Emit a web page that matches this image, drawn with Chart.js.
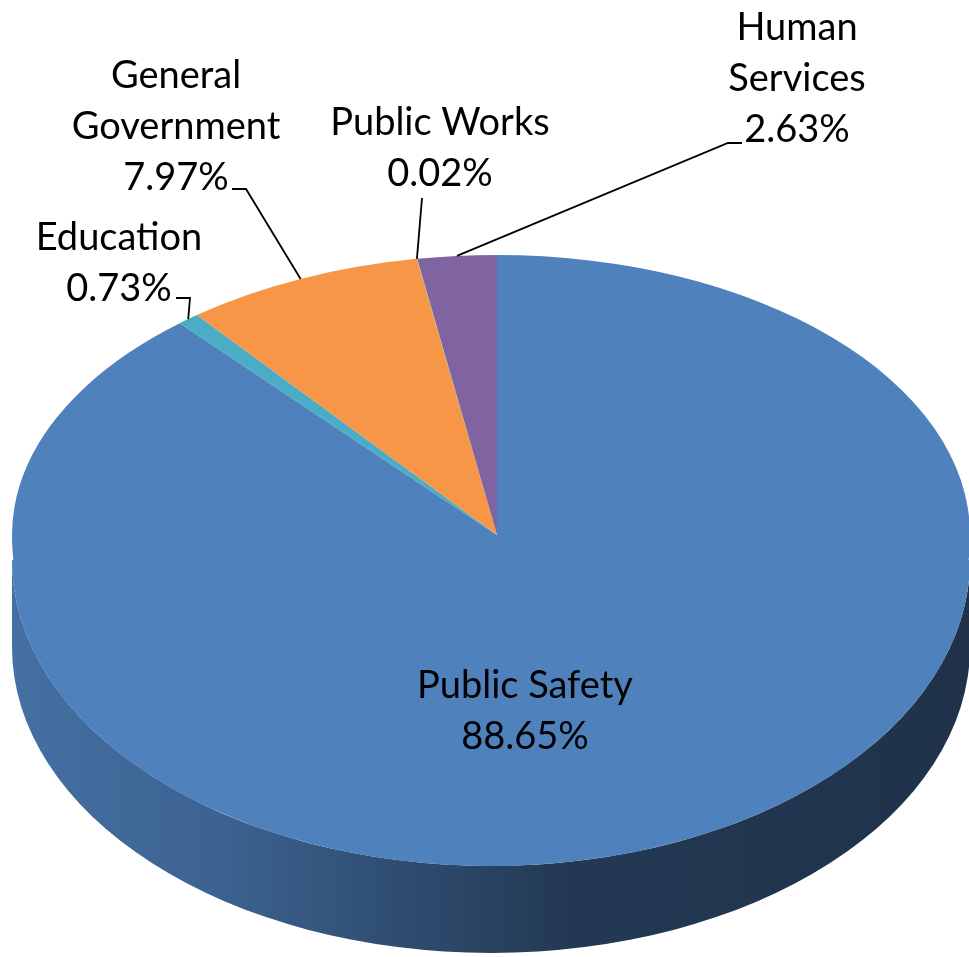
<!DOCTYPE html>
<html>
<head>
<meta charset="utf-8">
<script src="https://cdn.jsdelivr.net/npm/chart.js@4"></script>
<style>
  html, body { margin: 0; padding: 0; background: #fff; overflow: hidden; }
  #wrap { position: relative; width: 969px; height: 957px; }
</style>
</head>
<body>
<div id="wrap"><canvas id="pie"></canvas></div>
<script>
// share of spending by function, in percent
const categories = ['Public Safety', 'Education', 'General Government', 'Public Works', 'Human Services']
const shares = [88.65, 0.73, 7.97, 0.02, 2.63]
const sliceColors = ['#4F81BD', '#4BACC6', '#F79646', '#9BBB59', '#8064A2']

// how each category name wraps on screen
const labelLines = [
  ['Public Safety'],
  ['Education'],
  ['General', 'Government'],
  ['Public Works'],
  ['Human', 'Services']
]

// text block position (center x, first baseline) and leader line bends
const labelLayout = [
  { x: 525, y: 698 },
  { x: 119, y: 250, bends: [[176, 298], [190, 298]] },
  { x: 176, y: 88, bends: [[232, 189], [246, 189]] },
  { x: 440, y: 135, bends: [[422, 198]] },
  { x: 797, y: 40, bends: [[742, 143], [728, 143]] }
]

// The tilted disc is faked with a few affine patches of the flat pie:
// far half seen around the hub, near half a wider ellipse lower down.
const HUB_X = 497, HUB_Y = 535
const NEAR = { cx: 491, cy: 560, rx: 479, ry: 306 }
const DEPTH = 87
const W = 969, H = 957
const patches = [
  { clip: [0, 0, HUB_X, HUB_Y], cx: HUB_X, cy: HUB_Y, rx: 485, ry: 280 },
  { clip: [HUB_X, 0, W - HUB_X, HUB_Y], cx: HUB_X, cy: HUB_Y, rx: 473, ry: 280 },
  { clip: [0, HUB_Y, HUB_X, NEAR.cy - HUB_Y], cx: HUB_X, cy: HUB_Y, rx: 485, ry: 331 },
  { clip: [HUB_X, HUB_Y, W - HUB_X, NEAR.cy - HUB_Y], cx: HUB_X, cy: HUB_Y, rx: 473, ry: 331 },
  { clip: [0, NEAR.cy, W, H - NEAR.cy], cx: NEAR.cx, cy: NEAR.cy, rx: NEAR.rx, ry: NEAR.ry }
]

const FONT = '38px Lato, "Open Sans", sans-serif'
const LINE_H = 51

function shade(hex, f) {
  const n = parseInt(hex.slice(1), 16)
  const r = Math.round(((n >> 16) & 255) * f)
  const g = Math.round(((n >> 8) & 255) * f)
  const b = Math.round((n & 255) * f)
  return `rgb(${r},${g},${b})`
}

// outer wall for the part of each slice facing the viewer
function drawWalls(ctx, arcs) {
  const { cx, cy, rx, ry } = NEAR
  arcs.forEach((arc, i) => {
    const segs = []
    for (let k = -1; k <= 1; k++) {
      const a0 = Math.max(arc.startAngle, k * 2 * Math.PI)
      const a1 = Math.min(arc.endAngle, k * 2 * Math.PI + Math.PI)
      if (a1 > a0) segs.push([a0, a1])
    }
    const color = sliceColors[i]
    const grad = ctx.createLinearGradient(cx - rx, 0, cx + rx, 0)
    grad.addColorStop(0, shade(color, 0.87))
    grad.addColorStop(0.22, shade(color, 0.76))
    grad.addColorStop(0.42, shade(color, 0.58))
    grad.addColorStop(0.58, shade(color, 0.44))
    grad.addColorStop(1, shade(color, 0.39))
    segs.forEach(([a0, a1]) => {
      ctx.beginPath()
      ctx.ellipse(cx, cy, rx, ry, 0, a0, a1)
      ctx.ellipse(cx, cy + DEPTH, rx, ry, 0, a1, a0, true)
      ctx.closePath()
      ctx.fillStyle = grad
      ctx.fill()
    })
  })
}

// point on the rim of the top face at a given angle
function rimPoint(angle) {
  const c = Math.cos(angle), s = Math.sin(angle)
  if (s >= 0) return [NEAR.cx + NEAR.rx * c, NEAR.cy + NEAR.ry * s]
  const p = patches[c < 0 ? 0 : 1]
  return [p.cx + p.rx * c, p.cy + p.ry * s]
}

const tiltPlugin = {
  id: 'tilt',
  beforeDatasetsDraw(chart) {
    const ctx = chart.ctx
    const meta = chart.getDatasetMeta(0)
    const arcs = meta.data
    const R = arcs[0].outerRadius
    drawWalls(ctx, arcs)
    patches.forEach(p => {
      ctx.save()
      ctx.beginPath()
      ctx.rect(p.clip[0], p.clip[1], p.clip[2], p.clip[3])
      ctx.clip()
      ctx.translate(p.cx, p.cy)
      ctx.scale(p.rx / R, p.ry / R)
      ctx.translate(-arcs[0].x, -arcs[0].y)
      meta.controller.draw()
      ctx.restore()
    })
    return false
  },
  afterDraw(chart) {
    const ctx = chart.ctx
    const arcs = chart.getDatasetMeta(0).data
    ctx.save()
    ctx.font = FONT
    ctx.fillStyle = '#000'
    ctx.textAlign = 'center'
    ctx.textBaseline = 'alphabetic'
    ctx.strokeStyle = '#000'
    ctx.lineWidth = 1.8
    arcs.forEach((arc, i) => {
      const lay = labelLayout[i]
      const lines = labelLines[i].concat([shares[i].toFixed(2) + '%'])
      lines.forEach((t, j) => ctx.fillText(t, lay.x, lay.y + j * LINE_H))
      if (lay.bends) {
        const mid = (arc.startAngle + arc.endAngle) / 2
        const end = rimPoint(mid)
        ctx.beginPath()
        ctx.moveTo(lay.bends[0][0], lay.bends[0][1])
        lay.bends.slice(1).forEach(p => ctx.lineTo(p[0], p[1]))
        ctx.lineTo(end[0], end[1])
        ctx.stroke()
      }
    })
    ctx.restore()
  }
}

new Chart(document.getElementById('pie'), {
  type: 'pie',
  data: {
    labels: categories,
    datasets: [{
      data: shares,
      backgroundColor: sliceColors,
      borderWidth: 0,
      clip: false
    }]
  },
  options: {
    responsive: true,
    maintainAspectRatio: false,
    animation: false,
    events: [],
    layout: { padding: 0 },
    plugins: {
      legend: { display: false },
      tooltip: { enabled: false }
    }
  },
  plugins: [tiltPlugin]
})
</script>
</body>
</html>
